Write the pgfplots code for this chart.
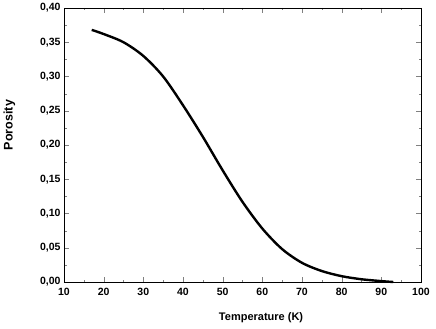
\documentclass[border=0pt]{standalone}
\usepackage{fontspec}
\setmainfont{Liberation Sans}
\usepackage{pgfplots}
\pgfplotsset{compat=1.18}
\begin{document}
\begin{tikzpicture}
\begin{axis}[
  scale only axis,
  width=357pt, height=274pt,
  xmin=10, xmax=100, ymin=0, ymax=0.40,
  xtick={10,20,...,100},
  ytick={0,0.05,...,0.41},
  minor x tick num=1, minor y tick num=1,
  tick align=inside,
  major tick length=5pt, minor tick length=2.5pt,
  /pgf/number format/assume math mode=true,
  tick label style={font=\fontsize{10.5}{12}\selectfont\bfseries},
  xticklabel style={yshift=-3pt},
  yticklabel style={/pgf/number format/.cd, fixed, fixed zerofill, precision=2, use comma},
  xlabel={Temperature (K)},
  ylabel={Porosity},
  x label style={font=\fontsize{11}{13}\selectfont\bfseries, at={(axis description cs:0.552,-0.131)}, anchor=center},
  y label style={font=\fontsize{12.5}{14}\selectfont\bfseries, at={(axis description cs:-0.1527,0.573)}, anchor=center, rotate=0},
  axis line style={line width=0.8pt},
  clip=false,
]
\addplot[black, line width=2.4pt, smooth] coordinates {
(17,0.368) (20,0.362) (25,0.350) (30,0.330) (35,0.300) (40,0.258)
(45,0.212) (50,0.163) (55,0.117) (60,0.078) (65,0.048) (70,0.028)
(75,0.016) (80,0.0085) (85,0.004) (90,0.0013) (93,0.0)
};
\path (rel axis cs:0,0) ++(-64pt,-46pt) coordinate (bl);
\path (rel axis cs:1,1) ++(15pt,8pt) coordinate (tr);
\end{axis}
\path (bl) rectangle (tr);
\end{tikzpicture}
\end{document}
